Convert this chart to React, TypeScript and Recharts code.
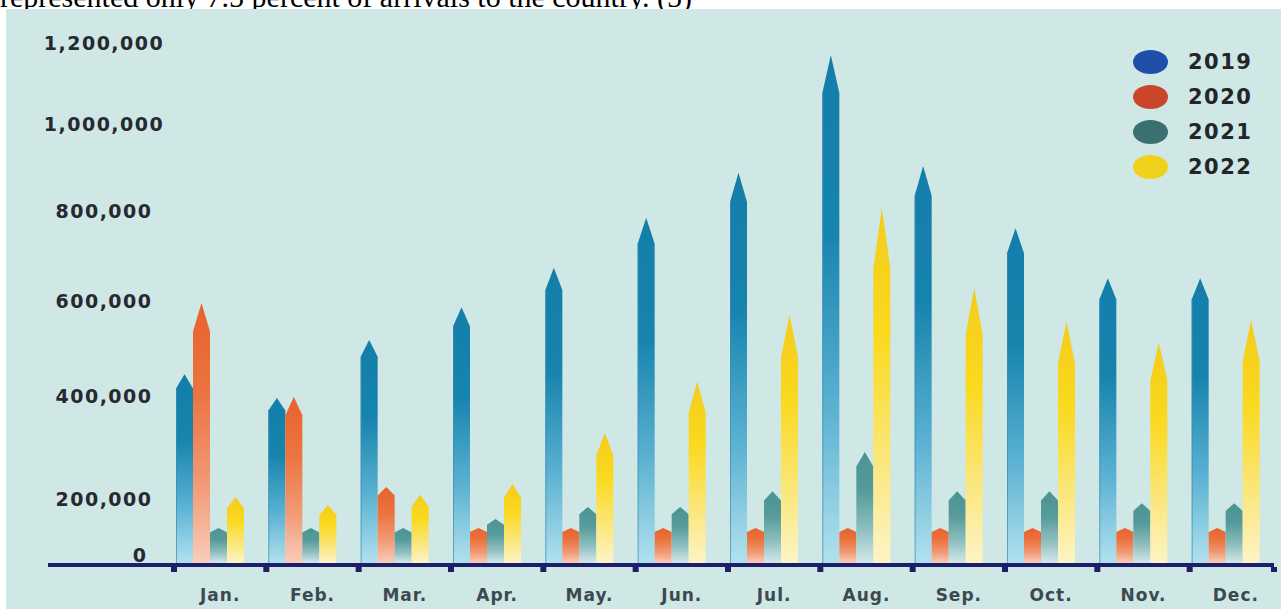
import { BarChart, Bar, XAxis, YAxis, Legend } from 'recharts';

const MONTHS = ['Jan.', 'Feb.', 'Mar.', 'Apr.', 'May.', 'Jun.', 'Jul.', 'Aug.', 'Sep.', 'Oct.', 'Nov.', 'Dec.'];
const ARRIVALS_2019 = [448000, 398000, 520000, 589000, 676000, 787000, 890000, 1173000, 906000, 764000, 653000, 653000];
const ARRIVALS_2020 = [598000, 400000, 225000, 111000, 111000, 111000, 111000, 111000, 111000, 111000, 111000, 111000];
const ARRIVALS_2021 = [111000, 111000, 111000, 140000, 178000, 178000, 217000, 293000, 217000, 217000, 190000, 190000];
const ARRIVALS_2022 = [206000, 184000, 210000, 231000, 330000, 432000, 573000, 809000, 631000, 558000, 514000, 562000];
const Y_TICKS = [0, 200000, 400000, 600000, 800000, 1000000, 1200000];
// where each tick sits along the axis (0 = baseline, 1 = top); the printed axis is not evenly spaced
const TICK_POS = [0, 0.1214, 0.3198, 0.5029, 0.6763, 0.8439, 1];

const SERIES = [
  { key: 'y2019', name: '2019', color: '#1f4fa8', tip: 0.075, stops: ['#137ea9', '#1784ae', '#5cb2d2', '#b2e1ee'] },
  { key: 'y2020', name: '2020', color: '#c9462a', tip: 0.11, stops: ['#e8622b', '#eb7440', '#f19a76', '#f8cdb8'] },
  { key: 'y2021', name: '2021', color: '#3b7070', tip: 0.13, stops: ['#4b9393', '#579b9b', '#8fbfc0', '#d3e8e8'] },
  { key: 'y2022', name: '2022', color: '#f0d21c', tip: 0.17, stops: ['#f4cc1c', '#fad91e', '#fbe67a', '#fdf4c6'] },
];

const data = MONTHS.map((m, i) => ({
  month: m,
  y2019: ARRIVALS_2019[i],
  y2020: ARRIVALS_2020[i],
  y2021: ARRIVALS_2021[i],
  y2022: ARRIVALS_2022[i],
}));

const W = 1287;
const H = 609;
const PLOT_LEFT = 164;
const PLOT_RIGHT = 15;
const BAND = (W - PLOT_LEFT - PLOT_RIGHT) / MONTHS.length;
const NAVY = '#1d1f6b';

// piecewise linear scale so the value axis follows the printed tick spacing
function piecewiseScale(): any {
  let domain: number[] = [0, 1];
  let range: number[] = [0, 1];
  const frac = (v: number) => {
    if (v <= Y_TICKS[0]) return TICK_POS[0];
    for (let i = 1; i < Y_TICKS.length; i++) {
      if (v <= Y_TICKS[i]) {
        const t = (v - Y_TICKS[i - 1]) / (Y_TICKS[i] - Y_TICKS[i - 1]);
        return TICK_POS[i - 1] + t * (TICK_POS[i] - TICK_POS[i - 1]);
      }
    }
    return TICK_POS[TICK_POS.length - 1];
  };
  const s: any = (v: number) => range[0] + frac(v) * (range[1] - range[0]);
  s.domain = (d?: number[]) => {
    if (d === undefined) return domain;
    domain = d.slice();
    return s;
  };
  s.range = (r?: number[]) => {
    if (r === undefined) return range;
    range = r.slice();
    return s;
  };
  s.ticks = () => Y_TICKS;
  s.invert = (px: number) => {
    const f = (px - range[0]) / (range[1] - range[0]);
    for (let i = 1; i < TICK_POS.length; i++) {
      if (f <= TICK_POS[i]) {
        const t = (f - TICK_POS[i - 1]) / (TICK_POS[i] - TICK_POS[i - 1]);
        return Y_TICKS[i - 1] + t * (Y_TICKS[i] - Y_TICKS[i - 1]);
      }
    }
    return Y_TICKS[Y_TICKS.length - 1];
  };
  s.copy = () => piecewiseScale().domain(domain).range(range);
  return s;
}

const yScale = piecewiseScale();

function Pencil(props: any) {
  const { x, y, width, height, series } = props;
  if (!height || height <= 0) return null;
  const s = SERIES.find((d) => d.key === series)!;
  const tip = Math.max(3, height * s.tip);
  const d = `M${x},${y + tip} L${x + width / 2},${y} L${x + width},${y + tip} L${x + width},${y + height} L${x},${y + height} Z`;
  return (
    <g>
      <path d={d} fill={`url(#grad-${series})`} />
      {series === 'y2019' && (
        <line x1={x + 0.5} x2={x + 0.5} y1={y + tip} y2={y + height} stroke="#3a8db4" strokeWidth={1} opacity={0.7} />
      )}
    </g>
  );
}

function ValueTick(props: any) {
  const { x, y, payload } = props;
  const v = payload.value as number;
  return (
    <text
      x={x + (v === 0 ? -24 : -60)}
      y={y + (v === 0 ? -8 : -1)}
      textAnchor="middle"
      dominantBaseline="central"
      fontFamily="DejaVu Sans"
      fontWeight={700}
      fontSize={19}
      letterSpacing={1.5}
      fill="#262a30"
    >
      {v.toLocaleString('en-US')}
    </text>
  );
}

function MonthTick(props: any) {
  const { x, y, payload, index } = props;
  const left = x - BAND / 2 + 10;
  return (
    <g>
      <rect x={left - 3} y={y + 4} width={6} height={5} fill={NAVY} />
      {index === MONTHS.length - 1 && <rect x={x + BAND / 2 - 1} y={y + 4} width={6} height={5} fill={NAVY} />}
      <text
        x={x + 10}
        y={y + 38}
        textAnchor="middle"
        fontFamily="DejaVu Sans"
        fontWeight={700}
        fontSize={17}
        letterSpacing={1}
        fill="#3c4950"
      >
        {payload.value}
      </text>
    </g>
  );
}

function LegendBox(props: any) {
  const { payload } = props;
  return (
    <div>
      {(payload || []).map((p: any) => (
        <div key={p.value} style={{ display: 'flex', alignItems: 'center', height: 35 }}>
          <div style={{ width: 35, height: 24, borderRadius: '50%', background: p.color, marginRight: 20 }} />
          <span
            style={{
              fontFamily: 'DejaVu Sans',
              fontWeight: 700,
              fontSize: 21,
              letterSpacing: 1.5,
              color: '#22262b',
            }}
          >
            {p.value}
          </span>
        </div>
      ))}
    </div>
  );
}

export default function App() {
  return (
    <div style={{ position: 'absolute', left: 0, top: 0, width: W, height: H, background: '#fff', overflow: 'hidden' }}>
      <div style={{ position: 'absolute', left: 0, top: 0, width: W, height: 9, overflow: 'hidden' }}>
        <div
          style={{
            position: 'absolute',
            left: 0,
            top: -18,
            fontFamily: '"Liberation Serif", serif',
            fontSize: 30,
            lineHeight: '30px',
            whiteSpace: 'nowrap',
            color: '#000',
          }}
        >
          represented only 7.5 percent of arrivals to the country. (5)
        </div>
      </div>
      <div style={{ position: 'absolute', left: 6, top: 9, width: 1275, height: 600, background: '#cfe7e5' }} />
      <div style={{ position: 'absolute', left: 0, top: 0 }}>
        <BarChart
          width={W}
          height={H}
          data={data}
          margin={{ top: 44, right: PLOT_RIGHT, bottom: 6, left: 0 }}
          barGap={0}
          barSize={17}
        >
          <defs>
            {SERIES.map((s) => (
              <linearGradient key={s.key} id={`grad-${s.key}`} x1="0" y1="0" x2="0" y2="1">
                <stop offset="0%" stopColor={s.stops[0]} />
                <stop offset="35%" stopColor={s.stops[1]} />
                <stop offset="70%" stopColor={s.stops[2]} />
                <stop offset="100%" stopColor={s.stops[3]} />
              </linearGradient>
            ))}
          </defs>
          <XAxis
            dataKey="month"
            axisLine={false}
            tickLine={false}
            tickSize={0}
            tickMargin={0}
            height={40}
            interval={0}
            tick={<MonthTick />}
          />
          <YAxis
            type="number"
            scale={yScale}
            domain={[0, 1200000]}
            ticks={Y_TICKS}
            width={PLOT_LEFT}
            axisLine={false}
            tickLine={false}
            tickSize={0}
            tickMargin={0}
            tick={<ValueTick />}
          />
          <Legend
            layout="vertical"
            align="center"
            verticalAlign="middle"
            content={<LegendBox />}
            wrapperStyle={{ position: 'absolute', top: 44, left: 1133, width: 150 }}
          />
          {SERIES.map((s) => (
            <Bar
              key={s.key}
              dataKey={s.key}
              name={s.name}
              fill={s.color}
              isAnimationActive={false}
              shape={(p: any) => <Pencil {...p} series={s.key} />}
            />
          ))}
        </BarChart>
      </div>
      <div style={{ position: 'absolute', left: 48, top: 563, width: 1226, height: 4, background: NAVY }} />
    </div>
  );
}
